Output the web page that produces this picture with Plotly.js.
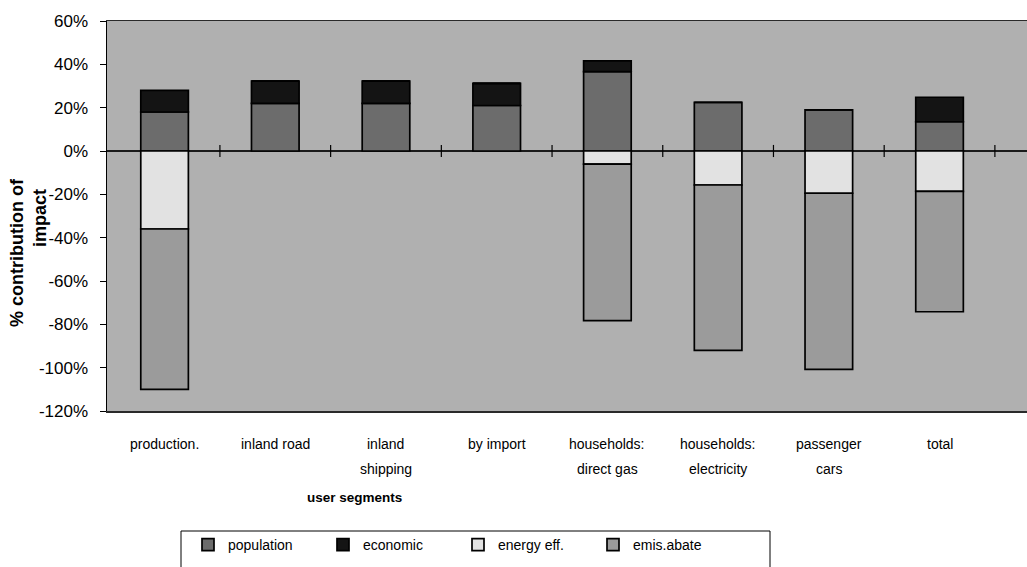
<!DOCTYPE html>
<html>
<head>
<meta charset="utf-8">
<script src="https://cdn.plot.ly/plotly-3.0.1.min.js"></script>
<style>
  html, body { margin: 0; padding: 0; background: #ffffff; overflow: hidden; }
  #chart { width: 1027px; height: 567px; }
</style>
</head>
<body>
<div id="chart"></div>
<script>
// User segments along the category axis
const categories = [
  "production.", "inland road", "inland shipping", "by import",
  "households: direct gas", "households: electricity", "passenger cars", "total"
];
// Category labels as they are broken over lines under the axis
const labelLines = [
  ["production."], ["inland road"], ["inland", "shipping"], ["by import"],
  ["households:", "direct gas"], ["households:", "electricity"], ["passenger", "cars"], ["total"]
];

// Contribution of each driver to the impact, in %
const population = [18, 22, 22, 21, 36.6, 22.4, 19, 13.5];
const economic   = [10, 10.3, 10.3, 10.2, 5, 0, 0, 11.3];
const energyEff  = [-36, 0, 0, 0, -6.1, -15.7, -19.5, -18.6];
const emisAbate  = [-74, 0, 0, 0, -72.2, -76.3, -81.3, -55.6];

// Value axis ticks
const yTickVals = [-120, -100, -80, -60, -40, -20, 0, 20, 40, 60];
const yTickText = ["-120%", "-100%", "-80%", "-60%", "-40%", "-20%", "0%", "20%", "40%", "60%"];

const barLine = { color: "#000000", width: 1.7 };
const mkTrace = (name, values, color) => ({
  type: "bar",
  name: name,
  x: categories,
  y: values,
  marker: { color: color, line: barLine },
  hoverinfo: "skip"
});

const traces = [
  mkTrace("population", population, "#6c6c6c"),
  mkTrace("economic", economic, "#141414"),
  mkTrace("energy eff.", energyEff, "#e2e2e2"),
  mkTrace("emis.abate", emisAbate, "#9b9b9b")
];

const plotLeft = 107, plotTop = 21, plotBottom = 411, plotW = 1027 - 107;
const plotH = plotBottom - plotTop;
const px2x = (px) => (px - plotLeft) / plotW;
const px2y = (py) => (plotBottom - py) / plotH;

const labelFont = { family: "Liberation Sans, Arial, sans-serif", size: 14, color: "#000" };

// Category label lines placed under the plot
const annotations = [];
labelLines.forEach((lines, i) => {
  lines.forEach((line, k) => {
    annotations.push({
      xref: "x", yref: "paper", x: categories[i], y: 0,
      yanchor: "middle", xanchor: "center",
      yshift: -(33 + 25 * k),
      text: line, showarrow: false,
      font: labelFont
    });
  });
});

// Axis titles
annotations.push({
  xref: "paper", yref: "paper", x: px2x(354), y: 0,
  yshift: -86, xanchor: "center", yanchor: "middle",
  text: "<b>user segments</b>", showarrow: false,
  font: { family: "Liberation Sans, Arial, sans-serif", size: 13.5, color: "#000" }
});
annotations.push({
  xref: "paper", yref: "paper", x: 0, xshift: 17 - plotLeft,
  y: px2y(253),
  xanchor: "center", yanchor: "middle", textangle: -90,
  text: "<b>% contribution of</b>", showarrow: false,
  font: { family: "Liberation Sans, Arial, sans-serif", size: 18, color: "#000" }
});
annotations.push({
  xref: "paper", yref: "paper", x: 0, xshift: 40 - plotLeft,
  y: px2y(218),
  xanchor: "center", yanchor: "middle", textangle: -90,
  text: "<b>impact</b>", showarrow: false,
  font: { family: "Liberation Sans, Arial, sans-serif", size: 18, color: "#000" }
});

// Tick marks on the zero line at the category boundaries
const shapes = [];
for (let i = 0; i < categories.length; i++) {
  shapes.push({
    type: "line", xref: "x", yref: "y",
    x0: i + 0.5, x1: i + 0.5, y0: -2.8, y1: 2.8,
    line: { color: "#000", width: 1.2 }
  });
}
// Frame around the legend
shapes.push({
  type: "rect", xref: "paper", yref: "paper",
  x0: px2x(181), x1: px2x(770), y0: px2y(531), y1: px2y(580),
  line: { color: "#000", width: 1 }, fillcolor: "#ffffff", layer: "below"
});

const layout = {
  width: 1027,
  height: 567,
  margin: { l: plotLeft, r: 0, t: plotTop, b: 567 - plotBottom },
  paper_bgcolor: "#ffffff",
  plot_bgcolor: "#b0b0b0",
  barmode: "relative",
  bargap: 0.57,
  showlegend: true,
  xaxis: {
    type: "category",
    range: [-0.52, 7.79],
    showticklabels: false,
    ticks: "",
    showgrid: false,
    zeroline: false,
    showline: true,
    mirror: true,
    linecolor: "#2a2a2a",
    linewidth: 1.5
  },
  yaxis: {
    range: [-120, 60],
    tickvals: yTickVals,
    ticktext: yTickText,
    ticks: "outside",
    ticklen: 6,
    tickcolor: "#000",
    ticklabelstandoff: 8,
    showgrid: false,
    zeroline: true,
    zerolinecolor: "#1a1a1a",
    zerolinewidth: 1.5,
    showline: true,
    linecolor: "#000",
    linewidth: 1.5,
    tickfont: { family: "Liberation Sans, Arial, sans-serif", size: 17, color: "#000" }
  },
  legend: {
    orientation: "h",
    x: px2x(188),
    xanchor: "left",
    y: px2y(529),
    yanchor: "top",
    bgcolor: "rgba(0,0,0,0)",
    borderwidth: 0,
    traceorder: "normal",
    entrywidth: 90,
    entrywidthmode: "pixels",
    font: { family: "Liberation Sans, Arial, sans-serif", size: 14, color: "#000" }
  },
  annotations: annotations,
  shapes: shapes
};

Plotly.newPlot("chart", traces, layout, { displayModeBar: false, staticPlot: true });
</script>
</body>
</html>
